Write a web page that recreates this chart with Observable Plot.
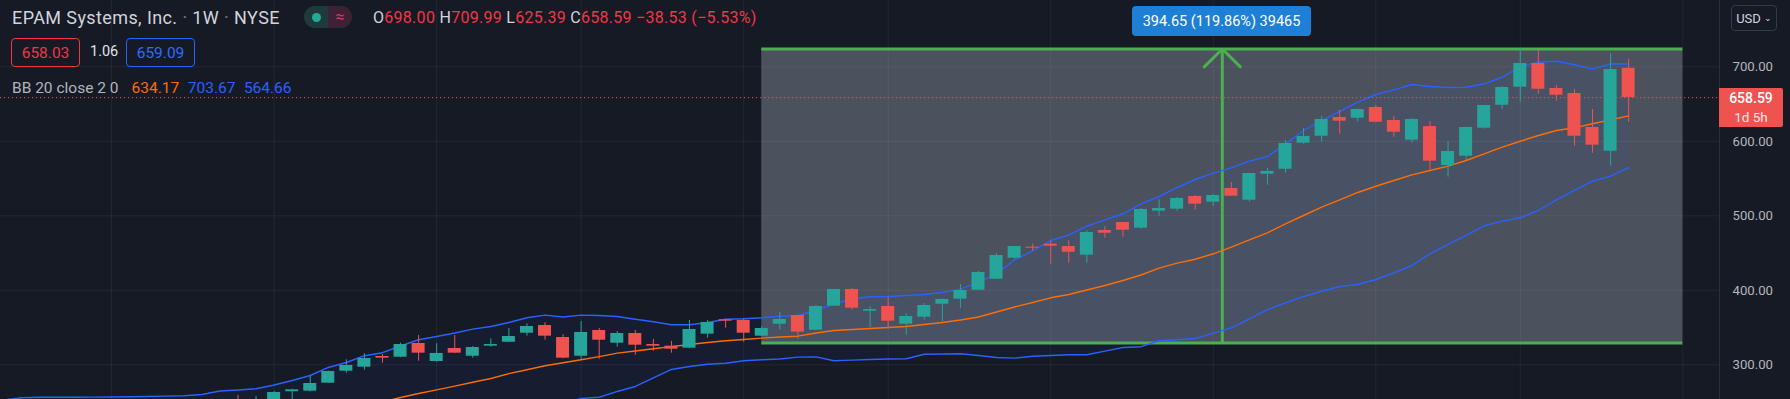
<!DOCTYPE html>
<html><head><meta charset="utf-8">
<script src="https://cdn.jsdelivr.net/npm/d3@7"></script>
<script src="https://cdn.jsdelivr.net/npm/@observablehq/plot@0.6"></script>
<style>
html,body{margin:0;padding:0;background:#161a25;overflow:hidden}
#wrap{position:relative;width:1790px;height:399px;font-family:Roboto,"Noto Sans",sans-serif}
#wrap svg{display:block}
.ov{position:absolute;white-space:nowrap;line-height:1}
.box{position:absolute;box-sizing:border-box;display:flex;align-items:center;justify-content:center;white-space:nowrap}
</style></head><body><div id="wrap"></div>
<script>
// ---- candle data (weekly OHLC, index 0 = first visible week) ----
const open  = [251,246,250,263.8,264.6,275.3,291.4,296.8,311.1,310.2,328.6,304.4,321.9,311.5,325,330.3,342.4,352.7,336.6,311.5,346,329,342,327.2,325,322.3,341.1,360.4,359.5,338.4,354.5,366.2,346.4,378.7,401.1,371.9,378.3,354.5,363.9,381.3,388.1,400.1,414.9,443.1,457.9,461.9,458.8,447.1,480.3,491,483.4,506.2,508.9,525.9,518.3,536.6,520.9,555.8,562.5,597.5,606.8,632,631,645.4,627.9,601.5,619.8,567.5,580,617.6,648.4,672.6,704.4,670.9,664.2,618.5,586.7,698];
const high  = [258.8,257.5,264.2,267.2,284.3,291.5,306.7,314.8,313.8,329,339.3,328.2,339.3,324.6,334.9,348.7,355,356.4,340.3,358.1,348.7,344.7,346,334,331.3,359.5,359.5,361,361.2,351,370.2,366.5,379.6,401.5,402.4,377.8,390.7,368.5,382.3,388.6,407.8,425.2,449.4,459,461.9,465.9,466.7,479.9,485.6,491.5,509.8,521.5,524.6,527.2,528.6,544.7,557,563.5,601.1,617.2,633.3,641.4,643,648.1,633.3,630.6,626.6,599.7,619,648.1,673.6,724.6,721.9,674.9,669.5,642.7,717.9,709.99];
const low   = [244,243,248,251,263.5,274.8,288.7,292.8,302.1,309.5,304.8,303.5,315,308.9,323.6,330,338.4,333,308.1,307.1,307.5,323.6,312.9,318.3,315.6,322,335.7,349.1,330.3,337.5,346.4,334.4,346,378.3,373.3,350.1,347.8,339.7,359.9,357.2,376,399.5,414.5,441.7,452.5,435,436.4,436.4,469.9,471.3,482,499.5,506.2,507.5,512.9,526,518.3,541.1,557.2,596.1,598.8,609.5,625.6,625,605.5,597.5,561.2,551.8,574.2,616.3,643.1,652.5,663.2,653.8,593.4,584,566.6,625.39];
const close = [246,251,262.8,266.4,274.9,291,299.1,308.5,308.9,327.2,315.6,315.2,315.6,323.2,327.2,338,351.4,338.4,308.9,343.4,333,342,326.3,325,320.9,347.4,356.8,358.5,342.4,348.7,360.8,343.8,378.3,401.1,376,374.2,358.5,364.8,379.6,387.6,399.7,423.9,446.7,458.8,456.5,459.2,451.1,477.6,476.6,480.7,508.5,509.8,523.2,515.6,527.2,526.3,556.8,559.5,597.1,606.5,629.3,627,642.7,625.6,612.2,629.3,573.3,586.3,618.5,648.1,672.2,704.4,669.9,661.9,606.8,594.8,696.4,658.59];

// ---- Bollinger Bands (20, close, 2) ----
const upperStart = -13;
const upper = [252.8,255.7,256.4,256.5,256.5,256.6,256.8,257,257.4,257.9,258.4,260.1,264.8,266.2,267.9,272.8,278.9,285.6,296.4,303.1,312.2,316.2,325.2,333.6,338,342.6,347.9,351.4,356.8,363.1,366.6,364.2,366.6,366.2,364.8,361.2,357.7,353.7,353.7,356.8,361.2,361.7,363.1,365.2,366.2,372.9,381.9,388.6,391.3,391.7,393,394.4,397,401.5,410.9,422.1,440.9,452.8,466.8,474,486,494.6,502.7,516.1,525.9,538,548.7,557.2,564.4,573.3,579.6,596.6,614.5,627.9,640,652.5,662.8,669.1,676.2,673.6,672.2,672.6,677.2,686,700.4,706.2,707.5,702.7,696.8,704,703.67];
const basisStart = 7;
const basis = [244,250,256.1,261.5,266.3,271.4,276.5,281.6,288.1,293.4,298.7,302.7,306.7,310.9,315.6,318.5,321.5,324.4,327.2,329.9,332.2,334,335.8,337.3,338.4,342.7,346,347.4,348.7,350.1,351.4,354.1,356.8,360.1,364.2,370.9,377.6,383.6,389.9,394.4,400.4,406.4,413.2,420.5,429.7,436.4,441.7,449,457.9,467.8,477.2,489.3,500.4,511.5,521.5,531.3,539.7,547.4,555,560.8,566.6,574.2,583.2,592.1,600.1,607.8,614.5,618.1,623.5,628.9,634.17];
const lowerStart = 17;
const lower = [240,248,254.8,256.4,264.2,270.9,282.3,293.7,297.7,300.8,302.1,305.4,306.7,307.7,310.3,310.6,305.4,306.2,307.1,307.7,308.1,314.2,314.5,314.8,312.5,309.8,308.9,311.4,312.5,313.4,313.4,318.3,323.2,324.3,332.3,333.6,335.2,342.6,349.5,361.7,374.1,383.1,391.7,398.7,405.1,407.8,414.5,423.5,433.3,449,461.5,473.6,486.6,492.8,497.3,507.1,521.5,534,546.4,553.2,564.66];

// ---- price range drawing (week indices and prices) ----
const rangeWeeks = [29, 80];
const rangePrices = [329.26, 723.91];

// ---- axes ----
const yTicks = [300, 400, 500, 600, 700];
const gridWeeks = [-7, 2, 11, 19, 28, 36, 45, 54, 63, 71, 80];
const xDomain = [-13.15, 82.03];
const yDomain = [253.4, 789.0];

const TEAL = "#26a69a", RED = "#ef5350", BLUE = "#2962ff", ORANGE = "#ff6d00", GREEN = "#4caf50";

const candles = open.map((o, i) => ({i, o, h: high[i], l: low[i], c: close[i], up: close[i] >= o}));
const upperData = upper.map((v, k) => ({i: upperStart + k, v}));
const basisData = basis.map((v, k) => ({i: basisStart + k, v}));
const lowerData = lower.map((v, k) => ({i: lowerStart + k, v}));
const lowerMap = new Map(lowerData.map(d => [d.i, d.v]));
const bandFill = upperData.map(d => ({i: d.i, hi: d.v, lo: lowerMap.has(d.i) ? lowerMap.get(d.i) : yDomain[0]}));

const midWeek = (rangeWeeks[0] + rangeWeeks[1]) / 2;
const headDx = 1.0, headDy = 24;
const arrowHead = [
  {x: midWeek - headDx, y: rangePrices[1] - headDy},
  {x: midWeek, y: rangePrices[1]},
  {x: midWeek + headDx, y: rangePrices[1] - headDy}
];
const lastClose = close[close.length - 1];
const col = d => d.up ? TEAL : RED;

const chart = Plot.plot({
  width: 1790, height: 399,
  marginLeft: 0, marginRight: 71, marginTop: 0, marginBottom: 0,
  style: {background: "#161a25", color: "#b2b5be", fontFamily: "Roboto, sans-serif", fontSize: "13px", overflow: "visible"},
  x: {domain: xDomain, axis: null},
  y: {domain: yDomain, axis: null},
  marks: [
    Plot.rect([0], {x1: rangeWeeks[0], x2: rangeWeeks[1], y1: rangePrices[0], y2: rangePrices[1], fill: "#4b515d"}),
    Plot.areaY(bandFill, {x: "i", y1: "lo", y2: "hi", fill: BLUE, fillOpacity: 0.05, clip: true}),
    Plot.ruleY(yTicks, {stroke: "#ffffff", strokeOpacity: 0.06}),
    Plot.ruleX(gridWeeks, {stroke: "#ffffff", strokeOpacity: 0.06}),
    Plot.ruleX([xDomain[1]], {stroke: "#2a2e39", strokeWidth: 1}),
    Plot.text(yTicks, {x: xDomain[1], y: d => d, text: d => d.toFixed(2), dx: 13, textAnchor: "start", fill: "#b2b5be", fontSize: 13.2}),
    Plot.ruleY(rangePrices, {x1: rangeWeeks[0], x2: rangeWeeks[1], stroke: GREEN, strokeWidth: 3}),
    Plot.ruleX([midWeek], {y1: rangePrices[0], y2: rangePrices[1], stroke: GREEN, strokeWidth: 3}),
    Plot.line(arrowHead, {x: "x", y: "y", stroke: GREEN, strokeWidth: 3, strokeLinejoin: "miter"}),
    Plot.line(upperData, {x: "i", y: "v", stroke: BLUE, strokeWidth: 1.4, clip: true}),
    Plot.line(lowerData, {x: "i", y: "v", stroke: BLUE, strokeWidth: 1.4, clip: true}),
    Plot.line(basisData, {x: "i", y: "v", stroke: ORANGE, strokeWidth: 1.4, clip: true}),
    Plot.ruleY([lastClose], {stroke: RED, strokeWidth: 1, strokeDasharray: "1.2,2.8"}),
    Plot.ruleX(candles, {x: "i", y1: "l", y2: "h", stroke: col, strokeWidth: 1, clip: true}),
    Plot.rect(candles, {x1: d => d.i - 0.36, x2: d => d.i + 0.36, y1: d => Math.min(d.o, d.c), y2: d => Math.max(d.o, d.c), fill: col, clip: true})
  ]
});
const wrap = document.getElementById("wrap");
wrap.appendChild(chart);

function add(html, css, cls = "ov") {
  const e = document.createElement("div");
  e.className = cls; e.innerHTML = html; e.style.cssText = css; wrap.appendChild(e); return e;
}
// header
add("EPAM Systems, Inc. <span style='color:#787b86'>·</span> 1W <span style='color:#787b86'>·</span> NYSE", "left:12px;top:9px;font-size:18px;letter-spacing:0.4px;color:#d1d4dc;");
add("<div style='width:24px;height:22px;background:#1e3a3c;border-radius:11px 0 0 11px;display:flex;align-items:center;justify-content:center'><div style='width:9px;height:9px;border-radius:50%;background:#22ab94'></div></div><div style='width:24px;height:22px;background:#3d2236;border-radius:0 11px 11px 0;display:flex;align-items:center;justify-content:center;color:#e0306a;font-size:16px'>≈</div>", "left:304px;top:6px;display:flex;");
const R = "#f23645";
add(`O<span style="color:${R}">698.00</span> H<span style="color:${R}">709.99</span> L<span style="color:${R}">625.39</span> C<span style="color:${R}">658.59</span> <span style="color:${R}">−38.53 (−5.53%)</span>`, "left:373px;top:10px;font-size:16px;letter-spacing:0.28px;color:#d1d4dc;");
add("658.03", `left:11px;top:38px;width:69px;height:29px;border:1px solid ${R};border-radius:4px;color:${R};font-size:15.5px;`, "box");
add("1.06", "left:90px;top:45px;font-size:14.5px;color:#e0e3eb;");
add("659.09", `left:126px;top:38px;width:69px;height:29px;border:1px solid ${BLUE};border-radius:4px;color:#2f6bff;font-size:15.5px;`, "box");
add("BB 20 close 2 0", "left:12px;top:81px;font-size:15.5px;color:#b2b5be;");
add("634.17", `left:131.5px;top:81px;font-size:15.5px;color:${ORANGE};`);
add("703.67", `left:187.8px;top:81px;font-size:15.5px;color:${BLUE};`);
add("564.66", `left:243.9px;top:81px;font-size:15.5px;color:${BLUE};`);
// range label
add("394.65 (119.86%) 39465", "left:1132px;top:6px;width:179px;height:30px;background:#1e7fd6;border-radius:4px;color:#fff;font-size:14.5px;", "box");
// currency button
add("USD<span style='font-size:9px;margin-left:3px'>&#8964;</span>", "left:1731px;top:5px;width:46px;height:26px;border:1px solid #363a45;border-radius:4px;color:#d1d4dc;font-size:13px;", "box");
// last price tag
add("<div style='color:#fff;font-size:14px;font-weight:500'>658.59</div><div style='color:#ffe3e3;font-size:13.5px;margin-top:3px'>1d 5h</div>", `left:1719px;top:88px;width:64px;height:39px;background:${RED};border-radius:0 2px 2px 0;flex-direction:column;`, "box");
</script></body></html>
